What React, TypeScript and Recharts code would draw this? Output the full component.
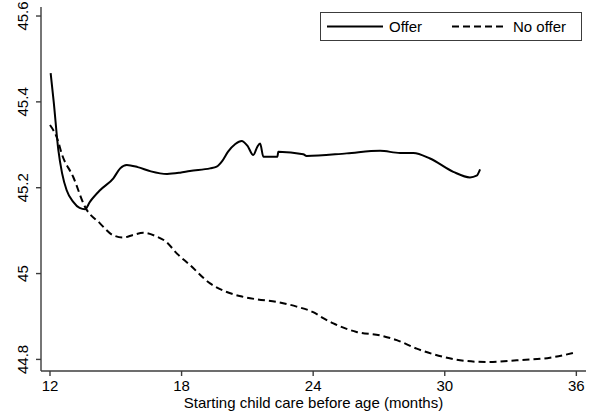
import React from 'react'
import { LineChart, Line, XAxis, YAxis } from 'recharts'

const seriesNames = ['Offer', 'No offer']

const offerX = [12.03, 12.17, 12.38, 12.55, 12.76, 13.06, 13.35, 13.6, 13.82, 14.28, 14.89, 15.2, 15.5, 16.0, 16.6, 17.34, 17.93, 18.38, 19.3, 19.6, 19.85, 20.12, 20.45, 20.74, 21.0, 21.27, 21.45, 21.58, 21.73, 22.37, 22.41, 23.55, 23.7, 25.53, 27.05, 27.96, 28.57, 29.33, 30.39, 31.15, 31.45, 31.61]
const offerY = [45.467, 45.4, 45.288, 45.234, 45.194, 45.167, 45.153, 45.15, 45.167, 45.194, 45.222, 45.245, 45.253, 45.248, 45.238, 45.232, 45.235, 45.239, 45.245, 45.249, 45.262, 45.284, 45.302, 45.309, 45.298, 45.276, 45.295, 45.303, 45.272, 45.272, 45.284, 45.278, 45.274, 45.28, 45.286, 45.281, 45.281, 45.268, 45.237, 45.224, 45.228, 45.243]

const noOfferX = [12.0, 12.36, 12.53, 13.06, 13.6, 14.28, 14.89, 15.34, 15.8, 16.25, 16.87, 17.3, 17.78, 18.38, 19.3, 20.06, 20.7, 21.43, 22.34, 23.25, 24.0, 24.5, 24.92, 25.98, 27.05, 27.81, 28.72, 29.93, 30.7, 31.91, 33.28, 34.8, 35.86]
const noOfferY = [45.346, 45.31, 45.28, 45.225, 45.155, 45.117, 45.089, 45.084, 45.09, 45.095, 45.086, 45.074, 45.047, 45.02, 44.977, 44.957, 44.947, 44.94, 44.934, 44.923, 44.91, 44.895, 44.884, 44.864, 44.856, 44.845, 44.825, 44.806, 44.798, 44.794, 44.798, 44.804, 44.815]

const xTicks = [12, 18, 24, 30, 36]
const yTicks = [44.8, 45, 45.2, 45.4, 45.6]
const xDomain = [11.59, 36.44]
const yDomain = [44.773, 45.621]

const offerData = offerX.map((x, i) => ({ x, y: offerY[i] }))
const noOfferData = noOfferX.map((x, i) => ({ x, y: noOfferY[i] }))

const font = 'Liberation Sans, Arial, Helvetica, sans-serif'
const axisColor = '#3c3c3c'

const YTick = (props: any) => {
  const { y, payload } = props
  const x = 28.5
  return (
    <text x={x} y={y} transform={`rotate(-90 ${x} ${y})`} textAnchor="middle" fontSize={15} fontFamily={font} fill="#000">
      {payload.value === 45 ? '45' : payload.value.toFixed(1)}
    </text>
  )
}

const XTick = (props: any) => {
  const { x, payload } = props
  return (
    <text x={x} y={391} textAnchor="middle" fontSize={15} fontFamily={font} fill="#000">
      {payload.value}
    </text>
  )
}

export default function App() {
  return (
    <div style={{ position: 'absolute', left: 0, top: 0, width: 595, height: 416, background: '#fff' }}>
      <LineChart width={595} height={416} margin={{ top: 7, right: 9, bottom: 0, left: 0 }}>
        <XAxis
          type="number"
          dataKey="x"
          domain={xDomain}
          ticks={xTicks}
          allowDataOverflow
          height={45}
          tickSize={5}
          tick={<XTick />}
          stroke={axisColor}
          strokeWidth={1.4}
          label={{ value: 'Starting child care before age (months)', position: 'insideBottom', offset: 8, fill: '#000', fontSize: 15, fontFamily: font }}
        />
        <XAxis xAxisId="top" orientation="top" type="number" dataKey="x" domain={xDomain} height={0} tick={false} tickLine={false} stroke={axisColor} strokeWidth={1.4} />
        <YAxis
          type="number"
          dataKey="y"
          domain={yDomain}
          ticks={yTicks}
          allowDataOverflow
          width={41}
          tickSize={5}
          tick={<YTick />}
          stroke={axisColor}
          strokeWidth={1.4}
        />
        <YAxis yAxisId="right" orientation="right" type="number" dataKey="y" domain={yDomain} width={0} tick={false} tickLine={false} stroke={axisColor} strokeWidth={1.4} />
        <Line data={offerData} dataKey="y" name={seriesNames[0]} type="monotone" stroke="#000" strokeWidth={2} dot={false} isAnimationActive={false} />
        <Line data={noOfferData} dataKey="y" name={seriesNames[1]} type="monotone" stroke="#000" strokeWidth={2} strokeDasharray="7 4" dot={false} isAnimationActive={false} />
      </LineChart>
      <svg style={{ position: 'absolute', left: 320, top: 12 }} width={263} height={30}>
        <rect x={0.5} y={0.5} width={261} height={28} fill="#fff" stroke={axisColor} strokeWidth={1} />
        <line x1={7} x2={63} y1={14.5} y2={14.5} stroke="#000" strokeWidth={2} />
        <text x={69} y={20} fontSize={15} fontFamily={font} fill="#000">{seriesNames[0]}</text>
        <line x1={132} x2={186} y1={14.5} y2={14.5} stroke="#000" strokeWidth={2} strokeDasharray="7 4" />
        <text x={193} y={20} fontSize={15} fontFamily={font} fill="#000">{seriesNames[1]}</text>
      </svg>
    </div>
  )
}
